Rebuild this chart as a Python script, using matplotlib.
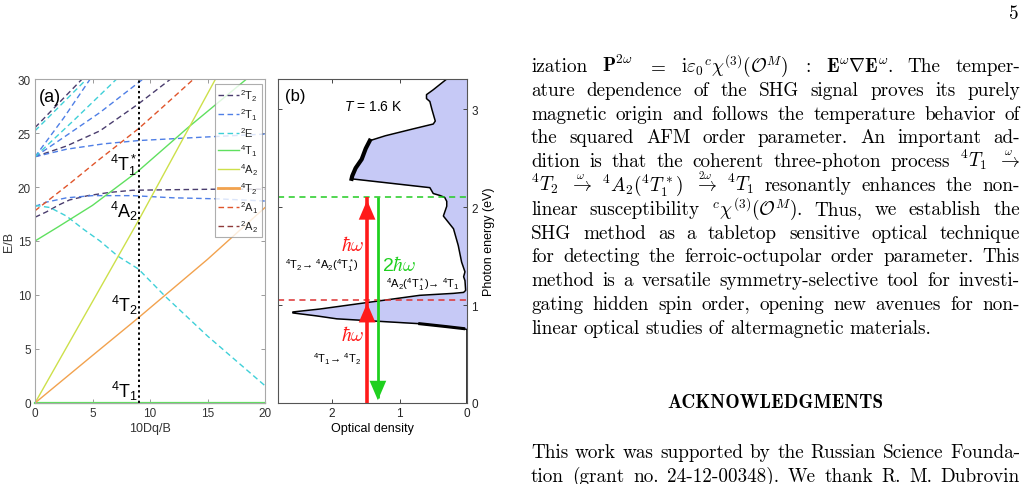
import numpy as np
import matplotlib
matplotlib.use('Agg')
import matplotlib.pyplot as plt

plt.rcParams['font.family'] = ['Liberation Sans', 'DejaVu Sans']
plt.rcParams['mathtext.fontset'] = 'custom'
plt.rcParams['mathtext.rm'] = 'Liberation Sans'
plt.rcParams['mathtext.it'] = 'Liberation Sans:italic'
plt.rcParams['mathtext.bf'] = 'Liberation Sans:bold'

# ---- panel (a): Tanabe-Sugano diagram (x = 10Dq/B, y = E/B)
q4T1_ground_x = [0, 20]
q4T1_ground_E = [0, 0]
q4T2_x = [0, 5, 9, 15, 20]
q4T2_E = [0, 4.4, 7.9, 13.3, 18.1]
q4A2_x = [0, 9, 15.7]
q4A2_E = [0, 16.9, 30]
q4T1_x = [0, 2, 5, 9, 13.3, 18.4]
q4T1_E = [15, 16.3, 18.3, 21.5, 25.5, 30]
d2E_low_x = [0, 1.3, 2.75, 4.2, 5.65, 7.2, 9, 11.3, 15, 20]
d2E_low_E = [18.3, 18.1, 17.3, 16.1, 15.0, 13.6, 12.4, 9.9, 6.2, 1.6]
d2E_up_x = [0, 3.5, 7.1]
d2E_up_E = [22.8, 26.3, 30]
d2E_top_x = [0, 4.5]
d2E_top_E = [25.2, 30]
d2T1_low_x = [0, 1, 2.75, 5, 8.5, 12, 16, 20]
d2T1_low_E = [18.2, 18.6, 19.0, 19.2, 19.2, 19.0, 18.9, 18.7]
d2T1_flat_x = [0, 2.75, 6, 9, 14.3, 20]
d2T1_flat_E = [22.8, 23.5, 24.0, 24.3, 24.6, 24.9]
d2T1_mid_x = [0, 2.5, 5.65, 9.4]
d2T1_mid_E = [22.8, 24.6, 26.9, 30]
d2T1_steep_x = [0, 2.5, 4.8]
d2T1_steep_E = [22.8, 26.4, 30]
d2T2_low_x = [0, 1, 2, 3, 4.6, 6.5, 8.5, 12, 16, 20]
d2T2_low_E = [17.2, 17.7, 18.3, 18.8, 19.2, 19.5, 19.7, 19.75, 19.8, 19.8]
d2T2_up_x = [0, 2.75, 5.65, 9, 11.8]
d2T2_up_E = [22.8, 23.8, 25.2, 27.7, 30]
d2T2_top_x = [0, 4.1]
d2T2_top_E = [25.5, 30]
d2A1_x = [0, 3, 5.65, 9, 11, 13.8]
d2A1_E = [17.8, 20.3, 22.6, 25.4, 27.3, 30]
dq_marker = 9

# ---- panel (b): absorption spectrum (photon energy in eV, optical density)
spec_E = [0.00, 0.75, 0.76, 0.78, 0.81, 0.84, 0.86, 0.89, 0.92, 0.93, 0.96, 1.03,
          1.10, 1.12, 1.13, 1.15, 1.25, 1.29, 1.34, 1.44, 1.61, 1.78, 1.91, 2.01,
          2.06, 2.10, 2.12, 2.14, 2.20, 2.29, 2.32, 2.40, 2.49, 2.60, 2.68, 2.73,
          2.80, 2.85, 2.88, 3.00, 3.08, 3.11, 3.15, 3.20, 3.31]
spec_OD = [0.00, 0.00, 0.05, 0.30, 0.70, 1.44, 1.93, 2.23, 2.58, 2.58, 2.18, 1.44,
           0.70, 0.20, 0.05, 0.02, 0.03, 0.05, 0.03, 0.08, 0.13, 0.20, 0.35, 0.30,
           0.30, 0.33, 0.40, 0.50, 0.55, 1.71, 1.70, 1.65, 1.56, 1.50, 1.44, 1.21,
           0.80, 0.50, 0.47, 0.52, 0.55, 0.60, 0.60, 0.50, 0.30]
E_omega = 1.05
E_2omega = 2.10
od_red = 1.48
od_green = 1.32

W, H = 1029, 485
fig = plt.figure(figsize=(W / 100, H / 100), dpi=100)

# ================= panel (a)
axa = fig.add_axes([35 / W, 81 / H, 230 / W, 324 / H])
c2T2, c2T1, c2E = '#4a3d6e', '#4f7fe6', '#3fd0d8'
c4T1, c4A2, c4T2 = '#5fe05f', '#cde04a', '#f2a24e'
c2A1, c2A2 = '#e0552b', '#8e3a3a'
dash = dict(linestyle=(0, (4, 2.5)), lw=1.0)

h2T2 = axa.plot(d2T2_low_x, d2T2_low_E, color=c2T2, **dash)[0]
axa.plot(d2T2_up_x, d2T2_up_E, color=c2T2, **dash)
axa.plot(d2T2_top_x, d2T2_top_E, color=c2T2, **dash)
h2T1 = axa.plot(d2T1_low_x, d2T1_low_E, color=c2T1, **dash)[0]
axa.plot(d2T1_flat_x, d2T1_flat_E, color=c2T1, **dash)
axa.plot(d2T1_mid_x, d2T1_mid_E, color=c2T1, **dash)
axa.plot(d2T1_steep_x, d2T1_steep_E, color=c2T1, **dash)
h2E = axa.plot(d2E_low_x, d2E_low_E, color=c2E, **dash)[0]
axa.plot(d2E_up_x, d2E_up_E, color=c2E, **dash)
axa.plot(d2E_top_x, d2E_top_E, color=c2E, **dash)
h2A1 = axa.plot(d2A1_x, d2A1_E, color=c2A1, **dash)[0]
h2A2 = axa.plot([], [], color=c2A2, **dash)[0]
h4T1 = axa.plot(q4T1_x, q4T1_E, color=c4T1, lw=1.0)[0]
axa.plot(q4T1_ground_x, q4T1_ground_E, color=c4T1, lw=1.6, clip_on=False)
h4A2 = axa.plot(q4A2_x, q4A2_E, color=c4A2, lw=1.0)[0]
h4T2 = axa.plot(q4T2_x, q4T2_E, color=c4T2, lw=1.0)[0]
axa.axvline(dq_marker, color='black', ls=(0, (1.2, 1.5)), lw=1.4)

axa.set_xlim(0, 20)
axa.set_ylim(0, 30)
axa.set_xticks([0, 5, 10, 15, 20])
axa.set_yticks([0, 5, 10, 15, 20, 25, 30])
axa.tick_params(direction='in', top=True, right=True, length=3, width=0.7,
                colors='#9a9a9a', labelcolor='#333333', labelsize=8.5, pad=3)
for sp in axa.spines.values():
    sp.set_color('#a8a8a8')
    sp.set_linewidth(0.8)
axa.set_xlabel('10Dq/B', fontsize=9, color='#333333', labelpad=2)
axa.set_ylabel('E/B', fontsize=9, color='#333333', labelpad=2)

leg_h = [h2T2, h2T1, h2E, h4T1, h4A2, h4T2, h2A1, h2A2]
leg_l = ['$^2$T$_2$', '$^2$T$_1$', '$^2$E', '$^4$T$_1$', '$^4$A$_2$', '$^4$T$_2$',
         '$^2$A$_1$', '$^2$A$_2$']
leg = axa.legend(leg_h, leg_l, loc='upper right', bbox_to_anchor=(0.987, 0.985),
                 fontsize=8, frameon=True, fancybox=False, handlelength=1.9,
                 handletextpad=0.1, labelspacing=0.3, borderpad=0.3,
                 borderaxespad=0)
leg.get_frame().set_edgecolor('#9a9a9a')
leg.get_frame().set_linewidth(0.8)
leg.legend_handles[5].set_linewidth(2.0)
for t in leg.get_texts():
    t.set_color('#222222')

axa.text(0.3, 28.4, '(a)', fontsize=13, va='center', ha='left')
lab_kw = dict(fontsize=13, ha='right', va='center')
axa.text(8.95, 22.1, '$^4$T$_1^*$', **lab_kw)
axa.text(8.95, 17.8, '$^4$A$_2$', **lab_kw)
axa.text(8.95, 9.1, '$^4$T$_2$', **lab_kw)
axa.text(8.95, 1.2, '$^4$T$_1$', **lab_kw)

# ================= panel (b)
axb = fig.add_axes([278 / W, 81 / H, 189 / W, 324 / H])
axb.fill_betweenx(spec_E, spec_OD, 0, color='#c6c9f6', lw=0)
axb.plot(spec_OD, spec_E, color='black', lw=1.1)
axb.plot(spec_OD[29:35], spec_E[29:35], color='black', lw=3.0)
axb.plot(spec_OD[2:5], spec_E[2:5], color='black', lw=2.2)
axb.axhline(E_2omega, color='#22cc22', ls=(0, (4, 3)), lw=1.1)
axb.axhline(E_omega, color='#dd3333', ls=(0, (4, 3)), lw=1.1)

axb.plot([od_red, od_red], [0, E_2omega], color='#ff1a1a', lw=2.6, solid_capstyle='butt')
axb.plot([od_green, od_green], [0.05, E_2omega], color='#1fd01f', lw=2.0, solid_capstyle='butt')
head = dict(arrowstyle='-|>,head_length=0.7,head_width=0.3', lw=0, mutation_scale=20)
axb.annotate('', xy=(od_red, E_omega), xytext=(od_red, E_omega - 0.2),
             arrowprops=dict(color='#ff1a1a', **head))
axb.annotate('', xy=(od_red, E_2omega), xytext=(od_red, E_2omega - 0.2),
             arrowprops=dict(color='#ff1a1a', **head))
axb.annotate('', xy=(od_green, 0.0), xytext=(od_green, 0.2),
             arrowprops=dict(color='#1fd01f', **head))

axb.set_xlim(2.8, 0)
axb.set_ylim(0, 3.31)
axb.set_xticks([2, 1, 0])
axb.set_yticks([0, 1, 2, 3])
axb.yaxis.tick_right()
axb.yaxis.set_label_position('right')
axb.tick_params(direction='in', top=True, left=True, right=True, length=3, width=0.7,
                colors='#444444', labelcolor='#222222', labelsize=8.5, pad=3)
for sp in axb.spines.values():
    sp.set_color('#555555')
    sp.set_linewidth(0.8)
axb.set_xlabel('Optical density', fontsize=9, labelpad=2)
axb.set_ylabel('Photon energy (eV)', fontsize=9, labelpad=4)

axb.text(2.7, 3.14, '(b)', fontsize=12, va='center', ha='left')
axb.text(1.39, 3.03, '$T$ = 1.6 K', fontsize=10, ha='center', va='center')
hw_kw = dict(fontsize=14, color='#ff1a1a', ha='center', va='center', math_fontfamily='cm')
axb.text(1.70, 1.62, r'$\hbar\omega$', **hw_kw)
axb.text(1.70, 0.70, r'$\hbar\omega$', **hw_kw)
axb.text(1.00, 1.42, r'2$\hbar\omega$', fontsize=14, color='#1fd01f', ha='center',
         va='center', math_fontfamily='cm')
small = dict(fontsize=8, ha='center', va='center')
axb.text(2.15, 1.41, '$^4$T$_2$\u2192 $^4$A$_2$($^4$T$_1^*$)', **small)
axb.text(0.65, 1.22, '$^4$A$_2$($^4$T$_1^*$)\u2192 $^4$T$_1$', **small)
axb.text(1.93, 0.46, '$^4$T$_1$\u2192 $^4$T$_2$', **small)

# ================= text column of the page
# a word "@x" is an arrow with x written small above it
body = [
    r"ization $\mathbf{P}^{2\omega}$ $=$ $\mathrm{i}\varepsilon_0{}^c\chi^{(3)}(\mathcal{O}^M)$ $:$ $\mathbf{E}^\omega\nabla\mathbf{E}^\omega$. The temper-",
    "ature dependence of the SHG signal proves its purely",
    "magnetic origin and follows the temperature behavior of",
    "the squared AFM order parameter. An important ad-",
    r"dition is that the coherent three-photon process ${}^4T_1$ @\omega",
    r"${}^4T_2$ @\omega ${}^4A_2({}^4T_1^*)$ @2\omega ${}^4T_1$ resonantly enhances the non-",
    r"linear susceptibility ${}^c\chi^{(3)}(\mathcal{O}^M)$. Thus, we establish the",
    "SHG method as a tabletop sensitive optical technique",
    "for detecting the ferroic-octupolar order parameter. This",
    "method is a versatile symmetry-selective tool for investi-",
    "gating hidden spin order, opening new avenues for non-",
    "linear optical studies of altermagnetic materials.",
]
ack = [
    "This work was supported by the Russian Science Founda-",
    "tion (grant no. 24-12-00348). We thank R. M. Dubrovin",
]

renderer = fig.canvas.get_renderer()
body_size = 13.8
x_left, x_right = 531, 1020


def split_words(s):
    words, cur, in_math = [], '', False
    for ch in s:
        if ch == '$':
            in_math = not in_math
        if ch == ' ' and not in_math:
            if cur:
                words.append(cur)
            cur = ''
        else:
            cur += ch
    if cur:
        words.append(cur)
    return words


def put_line(s, y, justify=True, family='cmr10', size=body_size):
    words = split_words(s)
    texts, overs = [], []
    for w in words:
        over = None
        if w.startswith('@'):
            over = fig.text(0, 1 - (y - 12) / H, '$' + w[1:] + '$', fontsize=size * 0.58,
                            math_fontfamily='cm', ha='center', va='baseline')
            w = r'$\rightarrow$'
        texts.append(fig.text(0, 1 - y / H, w, fontsize=size, family=family,
                              math_fontfamily='cm', va='baseline'))
        overs.append(over)
    widths = [t.get_window_extent(renderer).width for t in texts]
    if justify and len(words) > 1:
        gap = (x_right - x_left - sum(widths)) / (len(words) - 1)
    else:
        gap = size * 100 / 72 * 0.3
    x = x_left
    for t, o, w in zip(texts, overs, widths):
        t.set_x(x / W)
        if o is not None:
            o.set_x((x + w / 2) / W)
        x += w + gap


for i, line in enumerate(body):
    put_line(line, 72 + 23.8 * i, justify=(i < len(body) - 1))
for i, line in enumerate(ack):
    put_line(line, 458 + 23.8 * i)

fig.text(775 / W, 1 - 408 / H, 'ACKNOWLEDGMENTS', family='cmb10', fontsize=body_size,
         ha='center', va='baseline')
fig.text(1019 / W, 1 - 19 / H, '5', family='cmr10', fontsize=body_size, ha='right',
         va='baseline')

fig.savefig('out.png', dpi=100)
